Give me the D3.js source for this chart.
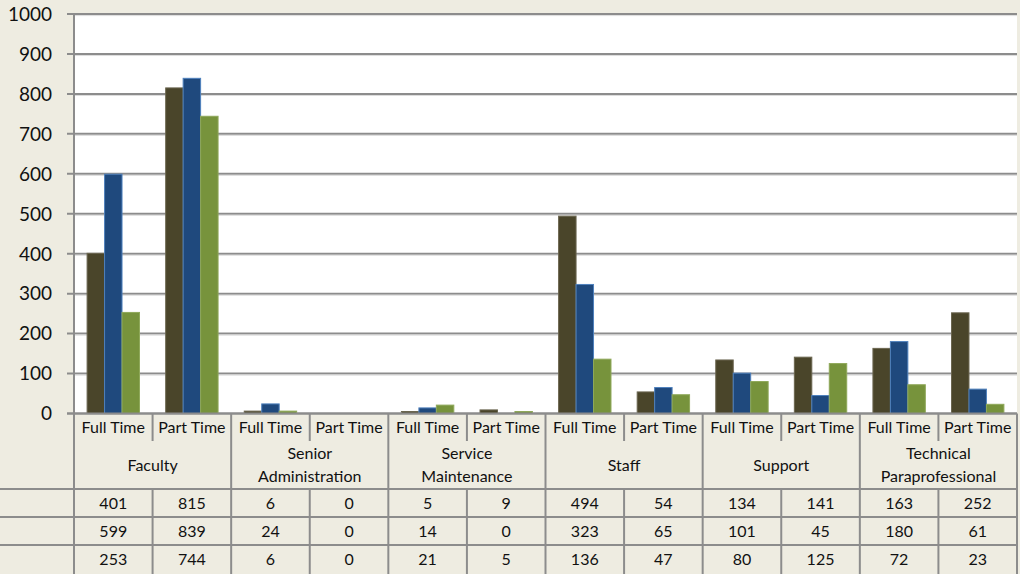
<!DOCTYPE html>
<html>
<head>
<meta charset="utf-8">
<script src="https://cdn.jsdelivr.net/npm/d3@7"></script>
<style>
  body { margin: 0; background: #eeece1; }
  svg { display: block; }
  text { font-family: "Lato", "Liberation Sans", sans-serif; fill: #111111; }
</style>
</head>
<body>
<svg id="chart"></svg>
<script>
// data
const groups = ["Faculty", "Senior Administration", "Service Maintenance", "Staff", "Support", "Technical Paraprofessional"];
const groupLines = [["Faculty"], ["Senior", "Administration"], ["Service", "Maintenance"], ["Staff"], ["Support"], ["Technical", "Paraprofessional"]];
const kinds = ["Full Time", "Part Time"];
const seriesNames = ["series1", "series2", "series3"];
const series1 = [401, 815, 6, 0, 5, 9, 494, 54, 134, 141, 163, 252];
const series2 = [599, 839, 24, 0, 14, 0, 323, 65, 101, 45, 180, 61];
const series3 = [253, 744, 6, 0, 21, 5, 136, 47, 80, 125, 72, 23];
const yTicks = [0, 100, 200, 300, 400, 500, 600, 700, 800, 900, 1000];

const colors = ["#4a452a", "#1f497d", "#77933c"];
const strokes = ["#6b6650", "#4f81bd", "#8fa85a"];

// set the geometry
const W = 1020, H = 574;
const plotLeft = 74, plotRight = 1017, plotTop = 14, plotBottom = 413.5;
const gridColor = "#8c8c8c";

const svg = d3.select("svg#chart").attr("width", W).attr("height", H);

// categories = group x kind
const cats = [];
groups.forEach((g, gi) => kinds.forEach((k, ki) => cats.push({id: gi + "-" + ki, group: gi, kind: k})));
const allSeries = [series1, series2, series3];

// set the ranges
const x = d3.scaleBand().domain(cats.map(d => d.id)).range([plotLeft, plotRight]).padding(0);
const bw = x.bandwidth() / 4.5;
const xs = d3.scaleBand().domain(seriesNames).range([0.75 * bw, 3.75 * bw]);
const y = d3.scaleLinear().domain([0, 1000]).range([plotBottom, plotTop]);

// plot area
svg.append("rect")
    .attr("x", plotLeft).attr("y", plotTop)
    .attr("width", plotRight - plotLeft).attr("height", plotBottom - plotTop)
    .attr("fill", "#ffffff");

// gridlines with outward ticks
svg.append("g").selectAll("line")
    .data(yTicks)
    .enter().append("line")
        .attr("x1", plotLeft - 7).attr("x2", plotRight)
        .attr("y1", d => y(d)).attr("y2", d => y(d))
        .attr("stroke", gridColor).attr("stroke-width", 2);
svg.append("g").selectAll("line")
    .data(yTicks.filter(d => d > 0))
    .enter().append("line")
        .attr("x1", plotLeft).attr("x2", plotRight)
        .attr("y1", d => y(d) + 1.6).attr("y2", d => y(d) + 1.6)
        .attr("stroke", "#dcdcdc").attr("stroke-width", 1);

// y labels
svg.append("g").selectAll("text")
    .data(yTicks)
    .enter().append("text")
        .attr("x", 52).attr("y", d => y(d))
        .attr("dy", "0.36em")
        .attr("text-anchor", "end")
        .style("font-size", "19px")
        .text(d => d);

// bars
allSeries.forEach((vals, si) => {
    svg.append("g").selectAll("rect")
        .data(cats.map((c, i) => ({c, v: vals[i]})))
        .enter().append("rect")
            .attr("x", d => x(d.c.id) + xs(seriesNames[si]))
            .attr("y", d => y(d.v))
            .attr("width", xs.bandwidth())
            .attr("height", d => y(0) - y(d.v))
            .attr("fill", colors[si])
            .attr("stroke", d => d.v > 0 ? strokes[si] : "none")
            .attr("stroke-width", 1);
});

// y axis line
svg.append("line")
    .attr("x1", plotLeft).attr("x2", plotLeft)
    .attr("y1", plotTop).attr("y2", H)
    .attr("stroke", gridColor).attr("stroke-width", 2);
svg.append("line")
    .attr("x1", plotLeft - 7).attr("x2", plotRight)
    .attr("y1", plotBottom).attr("y2", plotBottom)
    .attr("stroke", gridColor).attr("stroke-width", 2);

// data table
const rowSub = 441, rowGroup = 489, rowH = 28;
const table = svg.append("g");

// kind labels
table.selectAll(".kind")
    .data(cats)
    .enter().append("text")
        .attr("class", "kind")
        .attr("x", d => x(d.id) + x.bandwidth() / 2)
        .attr("y", 427).attr("dy", "0.36em")
        .attr("text-anchor", "middle")
        .style("font-size", "16px")
        .text(d => d.kind);

// group labels
groupLines.forEach((lines, gi) => {
    const cx = x(gi + "-0") + x.bandwidth();
    const t = table.append("text")
        .attr("x", cx)
        .attr("text-anchor", "middle")
        .style("font-size", "16px");
    lines.forEach((l, li) => {
        t.append("tspan")
            .attr("x", cx)
            .attr("y", 465 + (li - (lines.length - 1) / 2) * 23)
            .attr("dy", "0.36em")
            .text(l);
    });
});

// value rows
allSeries.forEach((vals, si) => {
    table.append("g").selectAll("text")
        .data(cats.map((c, i) => ({c, v: vals[i]})))
        .enter().append("text")
            .attr("x", d => x(d.c.id) + x.bandwidth() / 2)
            .attr("y", rowGroup + rowH * si + rowH / 2)
            .attr("dy", "0.36em")
            .attr("text-anchor", "middle")
            .style("font-size", "16px")
            .text(d => d.v);
});

// horizontal table lines
[rowGroup, rowGroup + rowH, rowGroup + 2 * rowH].forEach(yy => {
    table.append("line")
        .attr("x1", 0).attr("x2", plotRight)
        .attr("y1", yy).attr("y2", yy)
        .attr("stroke", gridColor).attr("stroke-width", 2);
});

// vertical table lines
cats.forEach(c => {
    const xx = x(c.id) + x.bandwidth();
    if (c.kind === "Part Time") {
        table.append("line")
            .attr("x1", xx).attr("x2", xx)
            .attr("y1", plotBottom).attr("y2", H)
            .attr("stroke", gridColor).attr("stroke-width", 2);
    } else {
        table.append("line")
            .attr("x1", xx).attr("x2", xx)
            .attr("y1", plotBottom).attr("y2", rowSub)
            .attr("stroke", gridColor).attr("stroke-width", 2);
        table.append("line")
            .attr("x1", xx).attr("x2", xx)
            .attr("y1", rowGroup).attr("y2", H)
            .attr("stroke", gridColor).attr("stroke-width", 2);
    }
});
</script>
</body>
</html>
